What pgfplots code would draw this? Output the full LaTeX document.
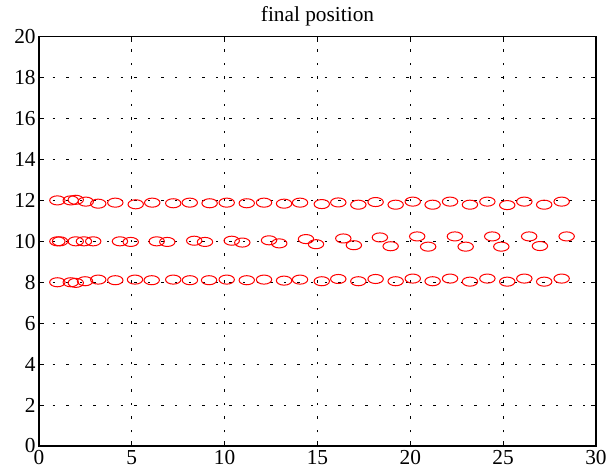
\documentclass[border=0pt]{standalone}
\usepackage{fontspec}
\setmainfont{Liberation Serif}
\usepackage{pgfplots}
\pgfplotsset{compat=1.18}
\pgfdeclareplotmark{ell}{%
  \pgfpathellipse{\pgfpointorigin}{\pgfpoint{1.7\pgfplotmarksize}{0pt}}{\pgfpoint{0pt}{\pgfplotmarksize}}%
  \pgfusepathqstroke}
\begin{document}
\begin{tikzpicture}
\path[use as bounding box] (-29.25pt,-20.8pt) rectangle (431.25pt,334.5pt);
\begin{axis}[
  scale only axis,
  width=417.75pt, height=307pt,
  xmin=0, xmax=30, ymin=0, ymax=20,
  xtick={0,5,...,30}, ytick={0,2,...,20},
  tick align=inside, tick pos=both,
  major tick length=4pt,
  axis line style={line width=0.8pt, black},
  every tick/.style={black, line width=0.6pt},
  grid=major,
  major grid style={black, line width=0.5pt, dash pattern=on 1.8pt off 8.4pt},
  /pgf/number format/assume math mode=true,
  ticklabel style={font=\fontsize{16}{18}\selectfont},
  xticklabel style={yshift=0pt},
  yticklabel style={xshift=1pt},
  title={final position},
  title style={font=\fontsize{16}{18}\selectfont, at={(0.5,1)}, anchor=south, yshift=-1.5pt},
  clip=false,
]
\addplot[only marks, mark=ell, mark size=3.4pt, mark options={red, line width=0.75pt}] coordinates {
(0.99,12.00) (1.71,12.00) (1.98,12.03) (2.52,11.94) (3.19,11.84) (4.11,11.89) (5.21,11.81) (6.10,11.89)
(7.23,11.86) (8.12,11.89) (9.19,11.86) (10.11,11.89) (11.19,11.86) (12.12,11.89) (13.20,11.84) (14.06,11.89)
(15.23,11.82) (16.12,11.90) (17.20,11.79) (18.13,11.92) (19.21,11.79) (20.13,11.94) (21.20,11.79) (22.14,11.94)
(23.21,11.79) (24.15,11.94) (25.22,11.77) (26.14,11.94) (27.21,11.79) (28.15,11.94)
};
\addplot[only marks, mark=ell, mark size=3.4pt, mark options={red, line width=0.75pt}] coordinates {
(0.99,10.00) (1.13,10.00) (1.98,10.00) (2.42,10.00) (2.92,10.00) (4.36,10.00) (4.94,9.97) (6.34,10.00)
(6.91,9.97) (8.36,10.03) (8.94,9.97) (10.38,10.03) (10.95,9.94) (12.39,10.05) (12.94,9.90) (14.38,10.11)
(14.92,9.86) (16.39,10.14) (16.96,9.81) (18.36,10.19) (18.94,9.76) (20.37,10.24) (20.96,9.74) (22.40,10.24)
(22.98,9.74) (24.41,10.24) (24.90,9.74) (26.40,10.24) (26.98,9.77) (28.42,10.24)
};
\addplot[only marks, mark=ell, mark size=3.4pt, mark options={red, line width=0.75pt}] coordinates {
(0.99,8.00) (1.71,8.00) (1.98,7.97) (2.48,8.05) (3.19,8.13) (4.11,8.10) (5.17,8.13) (6.07,8.10)
(7.23,8.13) (8.13,8.10) (9.16,8.10) (10.11,8.13) (11.19,8.10) (12.12,8.13) (13.20,8.08) (14.06,8.13)
(15.23,8.05) (16.12,8.16) (17.20,8.05) (18.13,8.16) (19.21,8.05) (20.13,8.18) (21.20,8.05) (22.14,8.18)
(23.21,8.03) (24.15,8.18) (25.22,8.03) (26.14,8.18) (27.21,8.03) (28.15,8.18)
};
\end{axis}
\end{tikzpicture}
\end{document}
